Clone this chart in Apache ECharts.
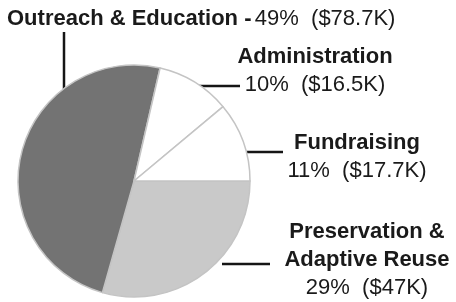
<!DOCTYPE html>
<html>
<head>
<meta charset="utf-8">
<script src="https://cdn.jsdelivr.net/npm/echarts@6/dist/echarts.min.js"></script>
<style>
    html, body { margin: 0; padding: 0; background: #fff; }
    #chart { width: 456px; height: 302px; }
</style>
</head>
<body>
<div id="chart"></div>
<script>
// categories, clockwise from 3 o'clock
var categorias = ['Preservation &\nAdaptive Reuse', 'Outreach & Education -', 'Administration', 'Fundraising'];
var montos = [47, 78.7, 16.5, 17.7];          // $K
var colores = ['#c9c9c9', '#737373', '#ffffff', '#ffffff'];

// where each label block sits (x, y, align) and its leader line
var posLabels = [
    {x: 367, y: 260, align: 'center'},
    {x: 7, y: 19, align: 'left'},
    {x: 315, y: 71, align: 'center'},
    {x: 357, y: 157, align: 'center'}
];
var lineas = [
    [222, 264, 270, 264],
    [64, 32, 64, 91],
    [195, 86, 240, 86],
    [245, 152, 283, 152]
];

function etiqueta(p) {
    var pct = Math.round(p.percent) + '%';
    var dinero = '($' + p.value + 'K)';
    if (p.dataIndex == 1) {
        return '{b|' + p.name + '} {r|' + pct + '  ' + dinero + '}';
    }
    var partes = p.name.split('\n');
    var s = '';
    for (var i = 0; i < partes.length; i++) {
        s += '{b|' + partes[i] + '}\n';
    }
    s += '{r|' + pct + '  ' + dinero + '}';
    return s;
}

var datos = [];
for (var i = 0; i < categorias.length; i++) {
    datos.push({name: categorias[i], value: montos[i], itemStyle: {color: colores[i]}});
}

var graficos = [];
for (var i = 0; i < lineas.length; i++) {
    graficos.push({
        type: 'line',
        shape: {x1: lineas[i][0], y1: lineas[i][1], x2: lineas[i][2], y2: lineas[i][3]},
        style: {stroke: '#151515', lineWidth: 2.5}
    });
}

var myChart = echarts.init(document.getElementById('chart'));
myChart.setOption({
    animation: false,
    graphic: graficos,
    series: [{
            type: 'pie',
            center: [134, 181],
            radius: [0, 116],
            startAngle: 0,
            clockwise: true,
            data: datos,
            itemStyle: {borderColor: '#c4c4c4', borderWidth: 1.5},
            emphasis: {disabled: true},
            label: {
                show: true,
                overflow: 'none',
                formatter: etiqueta,
                color: '#1a1a1a',
                rich: {
                    b: {fontFamily: 'Liberation Sans', fontWeight: 'bold', fontSize: 22, lineHeight: 28, color: '#1a1a1a'},
                    r: {fontFamily: 'Liberation Sans', fontSize: 22, lineHeight: 28, color: '#1a1a1a'}
                }
            },
            labelLine: {show: false},
            labelLayout: function (params) {
                var p = posLabels[params.dataIndex];
                return {x: p.x, y: p.y, align: p.align, verticalAlign: 'middle', width: 460};
            }
        }]
});
</script>
</body>
</html>
